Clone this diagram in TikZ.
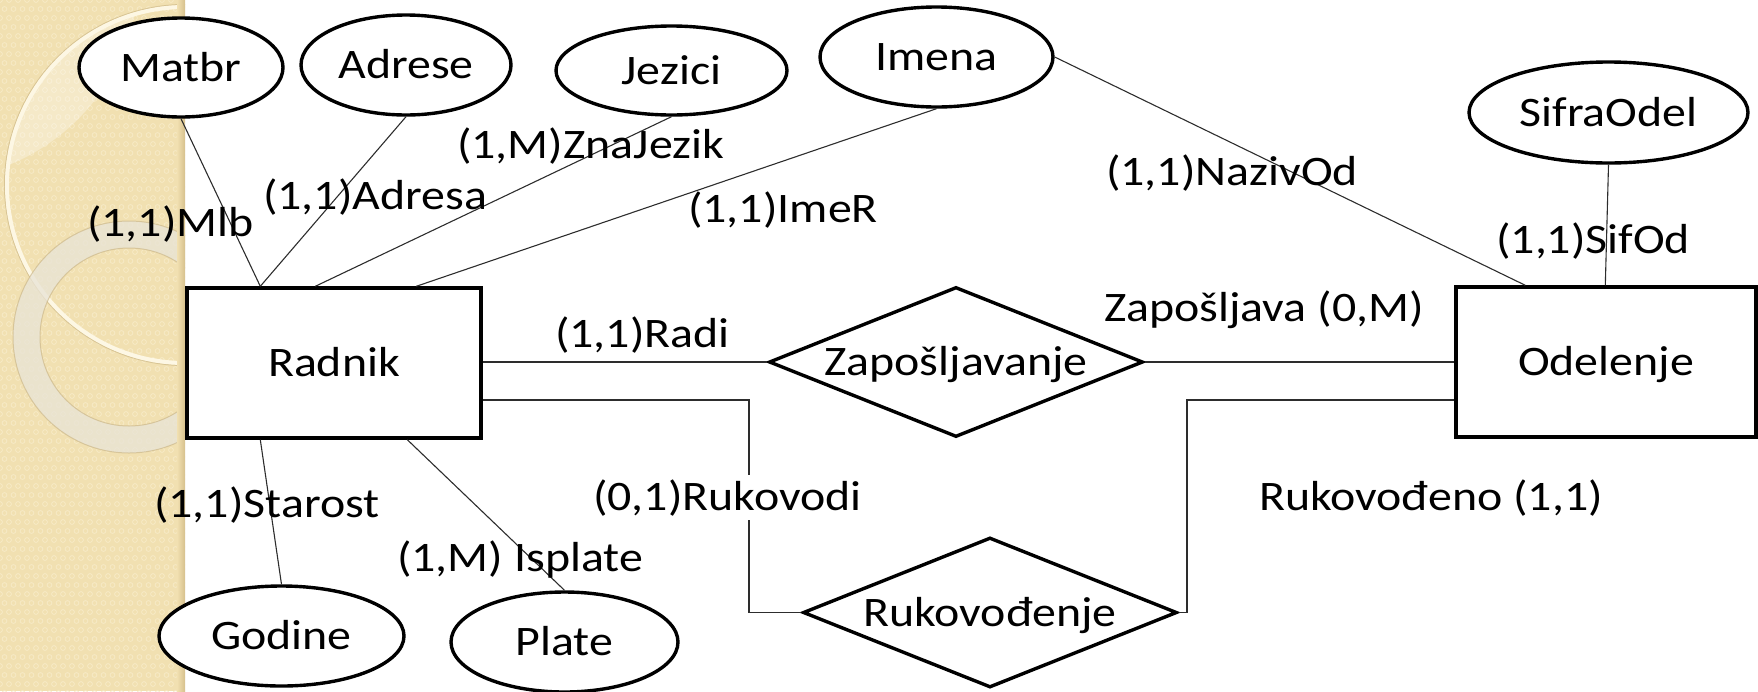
\documentclass[tikz,border=0pt]{standalone}
\usepackage{fontspec}
\setmainfont{Carlito}[FakeStretch=1.14]
\usetikzlibrary{shapes.geometric,calc}

\definecolor{paper}{RGB}{241,224,177}
\definecolor{paperdot}{RGB}{247,234,198}
\definecolor{paperedge}{RGB}{214,192,140}
\definecolor{ringcream}{RGB}{253,247,228}
\definecolor{ringtan}{RGB}{200,178,128}
\definecolor{ringgray}{RGB}{233,228,214}
\definecolor{linkgray}{RGB}{45,45,45}

\begin{document}
\begin{tikzpicture}[x=1pt,y=-1pt,
  every node/.style={font=\fontsize{42}{50}\selectfont, text=black},
  shapeline/.style={draw=black, line width=3.4pt, fill=white, inner sep=0pt,
                    text height=27pt, text depth=0pt},
  entitybox/.style={shapeline, rectangle, minimum height=150pt},
  attr/.style={shapeline, ellipse},
  rel/.style={shapeline, diamond, aspect=2.5, minimum width=374pt, minimum height=150pt},
  link/.style={draw=linkgray, line width=1.1pt},
  card/.style={anchor=base west, inner sep=0pt},
]
\useasboundingbox (0,0) rectangle (1758,691);

% decorative side strip
\begin{scope}
  \clip (0,0) rectangle (185,691);
  \fill[paper] (0,0) rectangle (185,691);
  \foreach \i in {0,...,20}
    \foreach \j in {0,...,77}
      \draw[paperdot, line width=0.8pt] ({\i*9+4.5*mod(\j,2)}, {\j*9}) circle (2.4pt);
  \begin{scope}
    \clip (185,185) circle (178pt);
    \fill[white, opacity=0.3] (-69,-28) circle (208pt);
  \end{scope}
  \draw[ringtan, line width=1pt, opacity=0.6] (185,185) circle (180.5pt);
  \draw[ringcream, line width=4pt] (185,185) circle (178pt);
  \fill[ringgray, opacity=0.78, even odd rule] (129,337) circle (116pt) (129,337) circle (89pt);
  \draw[ringtan, line width=1pt, opacity=0.6] (129,337) circle (116pt) (129,337) circle (89pt);
  \shade[left color=paper, right color=paperedge] (177,0) rectangle (185,691);
\end{scope}

% entities
\node[entitybox, minimum width=294pt] (radnik) at (334,363) {Radnik};
\node[entitybox, minimum width=300pt] (odelenje) at (1606,362) {Odelenje};

% relationships
\node[rel] (zap) at (956,362) {Zapošljavanje};
\node[rel] (ruk) at (990,612.5) {Rukovođenje};

% attributes
\node[attr, minimum width=204pt, minimum height=99pt]  (matbr)  at (181,67.5)    {Matbr};
\node[attr, minimum width=210pt, minimum height=100pt] (adrese) at (406,65)      {Adrese};
\node[attr, minimum width=231pt, minimum height=89pt]  (jezici) at (671.5,70.5)  {Jezici};
\node[attr, minimum width=233pt, minimum height=100pt] (imena)  at (936.5,57)    {Imena};
\node[attr, minimum width=279pt, minimum height=101pt] (sifra)  at (1608.5,112.5){SifraOdel};
\node[attr, minimum width=245pt, minimum height=100pt] (godine) at (281.5,636)   {Godine};
\node[attr, minimum width=227pt, minimum height=100pt] (plate)  at (564.5,642)   {Plate};

% connectors
\draw[link] (matbr.south)  -- ([xshift=75pt]radnik.north west);
\draw[link] (adrese.south) -- ([xshift=75pt]radnik.north west);
\draw[link] (jezici.south) -- ([xshift=130pt]radnik.north west);
\draw[link] (imena.south)  -- ([xshift=231pt]radnik.north west);
\draw[link] (imena.east)   -- ([xshift=71pt]odelenje.north west);
\draw[link] (sifra.south)  -- ([xshift=151pt]odelenje.north west);
\draw[link] ([xshift=75pt]radnik.south west)  -- (godine.north);
\draw[link] ([xshift=222pt]radnik.south west) -- (plate.north);
\draw[link] (zap.west) -- (zap.west -| radnik.east);
\draw[link] (zap.east) -- (zap.east -| odelenje.west);
\coordinate (bendL) at (749,400);
\coordinate (bendR) at (1187,400);
\draw[link] ([yshift=-37pt]radnik.east) -- (bendL) |- (ruk.west);
\draw[link] ([yshift=-38pt]odelenje.west) -- (bendR) |- (ruk.east);

% cardinality labels
\node[card] (lmlb)  at (87,236)   {(1,1)Mlb};
\node[card] (ladr)  at (263,209)  {(1,1)Adresa};
\node[card] (lzna)  at (457,158)  {(1,M)ZnaJezik};
\node[card] (lime)  at (688,222)  {(1,1)ImeR};
\node[card] (lnaz)  at (1106,185) {(1,1)NazivOd};
\node[card] (lsif)  at (1496,253) {(1,1)SifOd};
\node[card] (lzap)  at (1104,321) {Zapošljava (0,M)};
\node[card] (lradi) at (555,347)  {(1,1)Radi};
\node[card, fill=white, inner ysep=4pt] (lrukv) at (593,510) {(0,1)Rukovodi};
\node[card] (lrukd) at (1259,510) {Rukovođeno (1,1)};
\node[card] (lsta)  at (154,517)  {(1,1)Starost};
\node[card] (lisp)  at (397,571)  {(1,M) Isplate};
\end{tikzpicture}
\end{document}
